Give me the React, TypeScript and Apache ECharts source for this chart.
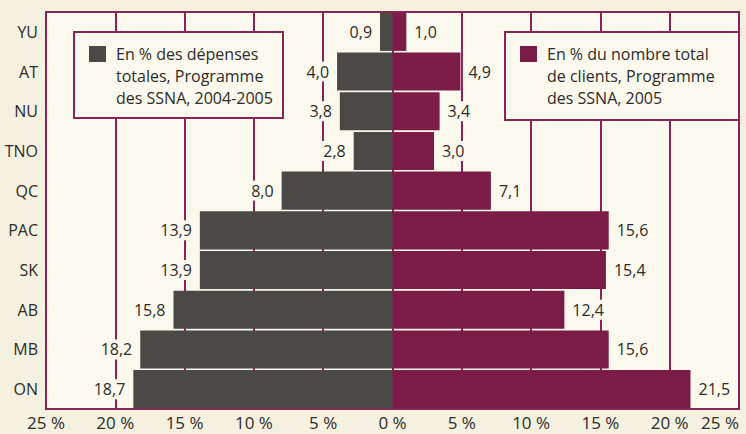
import React, { useEffect, useRef } from "react";
import * as echarts from "echarts";

const categories = ["YU", "AT", "NU", "TNO", "QC", "PAC", "SK", "AB", "MB", "ON"];
const expenses = [0.9, 4.0, 3.8, 2.8, 8.0, 13.9, 13.9, 15.8, 18.2, 18.7];
const clients = [1.0, 4.9, 3.4, 3.0, 7.1, 15.6, 15.4, 12.4, 15.6, 21.5];
const legendLeft = ["En % des dépenses", "totales, Programme", "des SSNA, 2004-2005"];
const legendRight = ["En % du nombre total", "de clients, Programme", "des SSNA, 2005"];

const BG = "#f4f1e0";
const PLOT_BG = "#fbf9ee";
const MAROON = "#8a2456";
const GREY = "#4b4946";
const WINE = "#7b1c47";
const TEXT = "#2e2b28";
const FONT = "'Open Sans', 'Noto Sans', sans-serif";

const fmt = (v: number) => Math.abs(v).toFixed(1).replace(".", ",");

export default function App() {
  const ref = useRef<HTMLDivElement>(null);
  useEffect(() => {
    if (!ref.current) return;
    const chart = echarts.init(ref.current, null, { renderer: "svg" });
    const legendBox = (x: number, y: number, w: number, h: number, color: string, lines: string[]) => ({
      type: "group",
      z: 100,
      children: [
        { type: "rect", shape: { x, y, width: w, height: h }, style: { fill: PLOT_BG, stroke: MAROON, lineWidth: 2 }, z: 100 },
        { type: "rect", shape: { x: x + 15, y: y + 14, width: 17, height: 16 }, style: { fill: color }, z: 101 },
        ...lines.map((t, i) => ({
          type: "text",
          x: x + 42,
          y: y + 22 + i * 22,
          z: 101,
          style: { text: t, fill: TEXT, font: `16px ${FONT}`, verticalAlign: "middle", textAlign: "left" },
        })),
      ],
    });
    chart.setOption({
      animation: false,
      backgroundColor: BG,
      textStyle: { fontFamily: FONT },
      grid: {
        left: 46,
        right: 7,
        top: 12,
        bottom: 25,
        outerBoundsMode: "none",
        containLabel: false,
        show: true,
        backgroundColor: PLOT_BG,
        borderColor: MAROON,
        borderWidth: 2,
      },
      xAxis: {
        type: "value",
        min: -25,
        max: 25,
        interval: 5,
        axisLine: { show: false },
        axisTick: { show: false },
        splitLine: { show: true, lineStyle: { color: MAROON, width: 2 } },
        axisLabel: {
          formatter: (v: number) => Math.abs(v) + " %",
          color: TEXT,
          fontSize: 17,
          fontFamily: FONT,
          margin: 5,
          alignMaxLabel: "right",
        },
      },
      yAxis: {
        type: "category",
        data: categories,
        inverse: true,
        axisLine: { show: false },
        axisTick: { show: false },
        splitLine: { show: false },
        axisLabel: { color: TEXT, fontSize: 16, fontFamily: FONT, margin: 8 },
      },
      series: [
        {
          type: "bar",
          stack: "t",
          data: expenses.map((v) => -v),
          barCategoryGap: "4%",
          itemStyle: { color: GREY },
          label: {
            show: true,
            position: "left",
            distance: 6,
            formatter: (p: any) => fmt(p.value),
            color: TEXT,
            fontSize: 16,
            fontFamily: FONT,
            backgroundColor: PLOT_BG,
            padding: [2, 2],
          },
        },
        {
          type: "bar",
          stack: "t",
          data: clients,
          barCategoryGap: "4%",
          itemStyle: { color: WINE },
          label: {
            show: true,
            position: "right",
            distance: 6,
            formatter: (p: any) => fmt(p.value),
            color: TEXT,
            fontSize: 16,
            fontFamily: FONT,
            backgroundColor: PLOT_BG,
            padding: [2, 2],
          },
        },
      ],
      graphic: [
        legendBox(74, 32, 209, 86, GREY, legendLeft),
        legendBox(505, 32, 234, 88, WINE, legendRight),
      ],
    });
    return () => chart.dispose();
  }, []);
  return <div ref={ref} style={{ position: "absolute", left: 0, top: 0, width: 746, height: 434 }} />;
}
